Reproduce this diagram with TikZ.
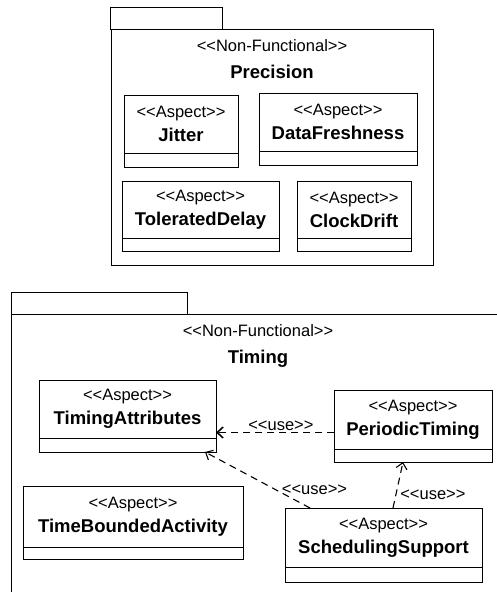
\documentclass[tikz,border=0pt]{standalone}
\usepackage{fontspec}
\setmainfont{Liberation Sans}
\usetikzlibrary{positioning}
\usetikzlibrary{arrows.meta}
\newcommand\Stereo[1]{<{}<#1>{}>}
\newcommand\Name[1]{{\bfseries\fontsize{18.5}{24}\selectfont #1}}
\tikzset{
  Kasten/.style={draw, line width=.9pt, inner sep=0pt, outer sep=0pt}, % Grundform
  Paket/.style={Kasten, anchor=north west},
  Reiter/.style={Kasten, anchor=north west, minimum height=22pt},
  Kopf/.style={Kasten, anchor=north west, minimum height=58pt, align=center,
    font=\fontsize{16.5}{24}\selectfont},
  Fach/.style={Kasten, minimum height=14pt},
  Titel/.style={anchor=north, inner sep=0pt, align=center, font=\fontsize{16.5}{27}\selectfont},
  Nutzt/.style={->, line width=1.1pt, dash pattern=on 7pt off 5pt, font=\fontsize{16.5}{20}\selectfont} % use-Abhaengigkeit
}

\begin{document}
\begin{tikzpicture}[x=1pt, y=-1pt,
>={Straight Barb[length=6pt,width=11pt]} % Pfeilspitzen
]
\useasboundingbox (0,0) rectangle (497,592);
\clip (0,0) rectangle (497,592);

%Pakete
\node (precR) [Reiter, minimum width=112pt] at (110,7) {};
\node (prec) [Paket, minimum width=322pt, minimum height=236pt] at (111,29) {};
\node (precT) [Titel] at ([yshift=-10pt]prec.north) {\Stereo{Non-Functional}\\ \Name{Precision}};

\node (timR) [Reiter, minimum width=176pt] at (11,292) {};
\node (tim) [Paket, minimum width=494pt, minimum height=320pt] at (11,314) {};
\node (timT) [Titel] at ([yshift=-10pt]tim.north) {\Stereo{Non-Functional}\\ \Name{Timing}};

%Klassen Precision
\node (jiK) [Kopf, minimum width=114pt] at (124,95) {\Stereo{Aspect}\\ \Name{Jitter}};
\node (jiF) [Fach, below=0pt of jiK, minimum width=114pt] {};

\node (dfK) [Kopf, minimum width=158pt] at (259,93) {\Stereo{Aspect}\\ \Name{DataFreshness}};
\node (dfF) [Fach, below=0pt of dfK, minimum width=158pt] {};

\node (tdK) [Kopf, minimum width=157pt, minimum height=57pt] at (122,181) {\Stereo{Aspect}\\ \Name{ToleratedDelay}};
\node (tdF) [Fach, below=0pt of tdK, minimum width=157pt, minimum height=13pt] {};

\node (cdK) [Kopf, minimum width=114pt, minimum height=57pt] at (297,181) {\Stereo{Aspect}\\ \Name{ClockDrift}};
\node (cdF) [Fach, below=0pt of cdK, minimum width=114pt, minimum height=13pt] {};

%Klassen Timing
\node (taK) [Kopf, minimum width=177pt] at (39,380) {\Stereo{Aspect}\\ \Name{TimingAttributes}};
\node (taF) [Fach, below=0pt of taK, minimum width=177pt] {};

\node (ptK) [Kopf, minimum width=158pt, minimum height=59pt] at (334,390) {\Stereo{Aspect}\\ \Name{PeriodicTiming}};
\node (ptF) [Fach, below=0pt of ptK, minimum width=158pt, minimum height=13pt] {};

\node (tbK) [Kopf, minimum width=220pt, minimum height=61pt] at (23,486) {\Stereo{Aspect}\\ \Name{TimeBoundedActivity}};
\node (tbF) [Fach, below=0pt of tbK, minimum width=220pt, minimum height=12pt] {};

\node (ssK) [Kopf, minimum width=197pt, minimum height=59pt] at (285,508) {\Stereo{Aspect}\\ \Name{SchedulingSupport}};
\node (ssF) [Fach, below=0pt of ssK, minimum width=197pt, minimum height=15pt] {};

%Abhaengigkeiten
\draw[Nutzt, line width=1.6pt] ([yshift=-13pt]ptK.west) -- ([yshift=-13pt]ptK.west -| taK.east)
  node[pos=.45, anchor=south, inner sep=0pt, yshift=1pt]{\Stereo{use}};
\draw[Nutzt] ([xshift=25pt]ssK.north west) -- ([xshift=-11pt]taF.south east)
  node[pos=.33, anchor=west, inner sep=0pt, xshift=6pt]{\Stereo{use}};
\draw[Nutzt] ([xshift=108pt]ssK.north west) -- ([xshift=69pt]ptF.south west)
  node[pos=.28, anchor=west, inner sep=0pt, xshift=4pt]{\Stereo{use}};

\end{tikzpicture}
\end{document}
